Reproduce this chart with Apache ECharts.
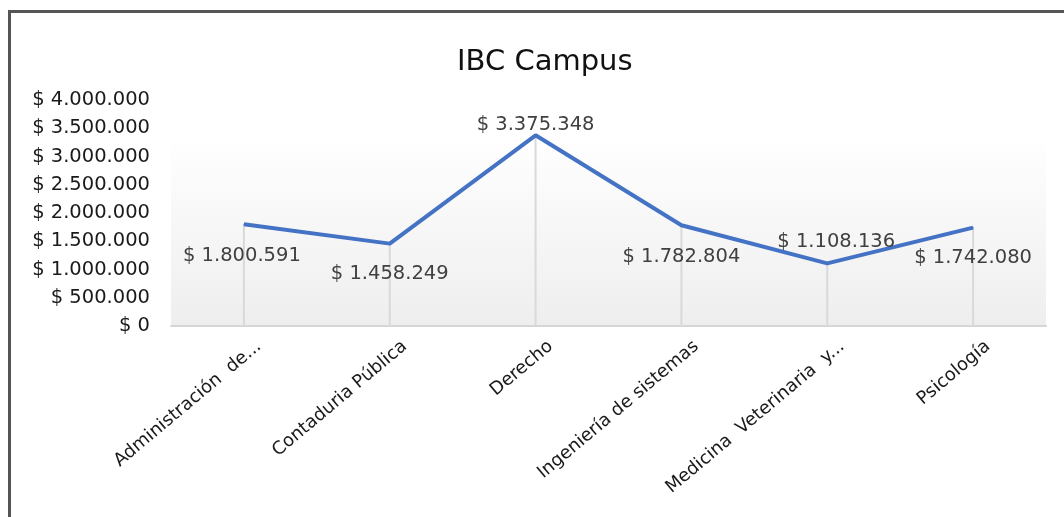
<!DOCTYPE html>
<html>
<head>
<meta charset="utf-8">
<title>IBC Campus</title>
<script src="https://cdn.jsdelivr.net/npm/echarts@6/dist/echarts.min.js"></script>
<style>
    html, body { margin: 0; padding: 0; background: #fff; }
    #frame {
        position: absolute;
        left: 8px;
        top: 10px;
        width: 1056px;
        height: 507px;
        border-top: 3px solid #555;
        border-left: 3px solid #555;
        box-sizing: border-box;
    }
    #lineEcharts { position: absolute; left: 0; top: 0; width: 1064px; height: 517px; }
</style>
</head>
<body>
<div id="frame"></div>
<div id="lineEcharts"></div>
<script>
    // datos del gráfico
    const categorias = ['Administración  de...', 'Contaduria Pública', 'Derecho', 'Ingeniería de sistemas', 'Medicina  Veterinaria  y...', 'Psicología'];
    const valores = [1800591, 1458249, 3375348, 1782804, 1108136, 1742080];
    const yTicks = [0, 500000, 1000000, 1500000, 2000000, 2500000, 3000000, 3500000, 4000000];

    // formato $ 1.234.567
    function pesos(v) {
        return '$ ' + String(Math.round(v)).replace(/\B(?=(\d{3})+(?!\d))/g, '.');
    }

    // posición de cada etiqueta (como en Excel)
    const labelPos = [
        { position: 'bottom', distance: 21, offset: [-2, 0] },
        { position: 'bottom', distance: 20, offset: [0, 0] },
        { position: 'top', distance: 0, offset: [0, 0] },
        { position: 'bottom', distance: 21, offset: [0, 0] },
        { position: 'top', distance: 11, offset: [9, 0] },
        { position: 'bottom', distance: 20, offset: [0, 0] }
    ];

    const fuente = '"DejaVu Sans", Verdana, sans-serif';

    const myChart = echarts.init(document.getElementById('lineEcharts'));
    const option = {
        backgroundColor: 'transparent',
        animation: false,
        textStyle: { fontFamily: fuente },
        title: {
            text: 'IBC Campus',
            left: 452,
            top: 43,
            textStyle: { fontSize: 29, fontWeight: 'normal', color: '#111', fontFamily: fuente }
        },
        grid: {
            left: 171,
            right: 18,
            top: 100,
            bottom: 191,
            outerBoundsMode: 'none',
            containLabel: false,
            show: true,
            borderWidth: 0,
            backgroundColor: new echarts.graphic.LinearGradient(0, 0, 0, 1, [
                { offset: 0, color: '#ffffff' },
                { offset: 0.15, color: '#ffffff' },
                { offset: 1, color: '#eeeeee' }
            ])
        },
        xAxis: {
            type: 'category',
            data: categorias,
            boundaryGap: true,
            axisLine: { lineStyle: { color: '#d6d6d6', width: 2 } },
            axisTick: { show: false },
            axisLabel: {
                rotate: 40,
                interval: 0,
                margin: 19,
                verticalAlign: 'top',
                padding: [0, -12, 0, 0],
                fontSize: 18,
                color: '#1a1a1a'
            }
        },
        yAxis: {
            type: 'value',
            min: 0,
            max: 4000000,
            interval: 500000,
            axisLine: { show: false },
            axisTick: { show: false },
            splitLine: { show: false },
            axisLabel: {
                margin: 21,
                fontSize: 19.5,
                color: '#1a1a1a',
                formatter: function (v) { return yTicks.indexOf(v) >= 0 ? pesos(v) : ''; }
            }
        },
        series: [
            {
                // líneas de caída
                name: 'drop',
                type: 'bar',
                barWidth: 2,
                silent: true,
                itemStyle: { color: '#d9d9d9' },
                data: valores,
                z: 1
            },
            {
                name: 'IBC Campus',
                type: 'line',
                symbol: 'circle',
                symbolSize: 1,
                showSymbol: true,
                itemStyle: { color: '#4472C4' },
                lineStyle: { color: '#4472C4', width: 4 },
                data: valores.map(function (v, i) {
                    return {
                        value: v,
                        label: Object.assign({ show: true }, labelPos[i])
                    };
                }),
                label: {
                    show: true,
                    fontSize: 19.5,
                    color: '#404040',
                    fontFamily: fuente,
                    formatter: function (p) { return pesos(p.value); }
                },
                z: 3
            }
        ]
    };
    myChart.setOption(option);
</script>
</body>
</html>
